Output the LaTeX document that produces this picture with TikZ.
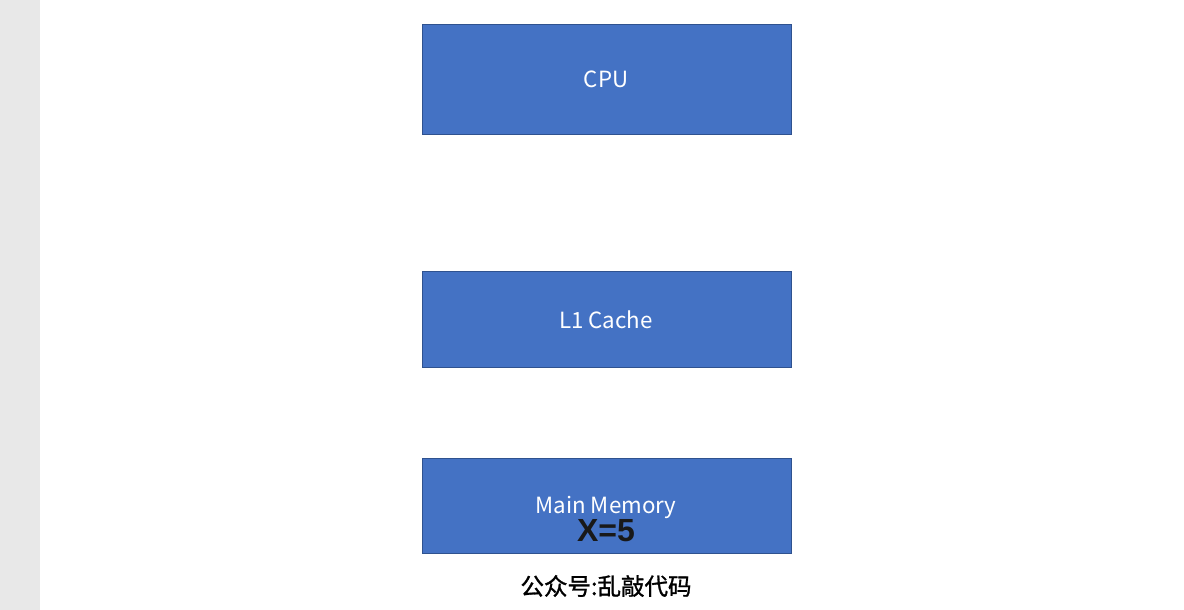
\documentclass[tikz,border=0pt]{standalone}
\usepackage{fontspec}
\setmainfont{Noto Sans CJK SC}
\newfontfamily\cjk{Noto Sans CJK SC}
\newfontfamily\cjkmid[FakeBold=1.2]{Noto Sans CJK SC}
\newfontfamily\arialish{Liberation Sans}
\definecolor{boxfill}{HTML}{4472C4}
\definecolor{boxedge}{HTML}{2F528F}
\definecolor{stripe}{HTML}{E8E8E8}
\begin{document}
\begin{tikzpicture}[x=1pt,y=-1pt,
  membox/.style={draw=boxedge,fill=boxfill,line width=0.8pt},
  boxlabel/.style={text=white,font=\fontsize{22.3}{25}\selectfont\cjk,inner sep=0pt}]
\useasboundingbox (0,0) rectangle (1184,610);
\fill[white] (0,0) rectangle (1184,610);
\fill[stripe] (0,0) rectangle (40,610);
\draw[membox] (422,24) rectangle (791,134);
\node[boxlabel] (cpu) at (606,79) {CPU};
\draw[membox] (422,271) rectangle (791,367);
\node[boxlabel] (l1) at (606,320) {L1 Cache};
\draw[membox] (422,458) rectangle (791,553);
\node[boxlabel] (mm) at (606,507) {Main Memory};
\node[font=\fontsize{32}{34}\selectfont\arialish\bfseries,text=black!90,inner sep=0pt] (x) at (606,531) {X=5};
\node[font=\fontsize{23.5}{26}\selectfont\cjkmid,text=black,inner sep=0pt] (cap) at (606,586) {公众号:乱敲代码};
\end{tikzpicture}
\end{document}
